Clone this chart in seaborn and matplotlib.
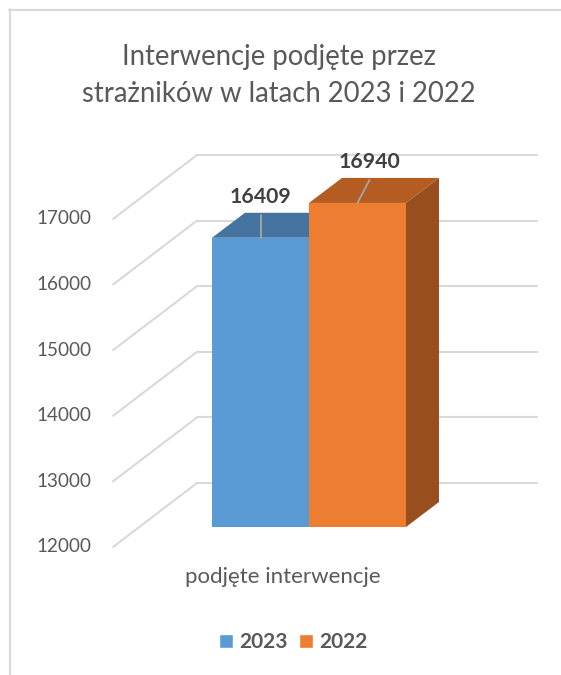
import matplotlib
matplotlib.use("Agg")
import matplotlib.pyplot as plt
import seaborn as sns
import pandas as pd
import numpy as np
from matplotlib.patches import Polygon
from matplotlib.lines import Line2D

# ---------------- data ----------------
title_lines = ["Interwencje podjęte przez", "strażników w latach 2023 i 2022"]
categories = ["podjęte interwencje"]
years = ["2023", "2022"]
values = [16409, 16940]
yticks = [12000, 13000, 14000, 15000, 16000, 17000]

front_colors = ["#5b9bd5", "#ed7d31"]
top_colors = ["#44749f", "#b55c22"]
side_colors = ["#3f6b93", "#994e1d"]
TXT = "#595959"
GRID = "#d9d9d9"

sns.set_theme(style="white")
plt.rcParams["font.family"] = ["Lato", "DejaVu Sans"]

W, H = 561, 675
fig = plt.figure(figsize=(W / 100, H / 100), dpi=100)
ax = fig.add_axes([0, 0, 1, 1])

df = pd.DataFrame({"cat": [categories[0]] * len(years), "year": years, "value": values})
sns.barplot(data=df, x="cat", y="value", hue="year", hue_order=years,
            palette=front_colors, saturation=1, width=0.8, ax=ax, legend=True)
bars = [p for p in ax.patches if np.isfinite(p.get_height()) and p.get_height() > 0
        and p.get_width() > 0]
bars.sort(key=lambda p: p.get_x())

# pixel <-> data mapping of the bar front plane
PXX = 242.5     # px per category unit
PXV = 0.0656    # px per value unit
X0, Y0 = 309, 527
BASE = yticks[0]
ax.set_xlim(-X0 / PXX, (W - X0) / PXX)
ax.set_ylim(BASE - (H - Y0) / PXV, BASE + Y0 / PXV)
ax.set_axis_off()

def dx(px):
    return px / PXX

def dv(px):
    return px / PXV

# back wall grid + left floor diagonals
for v in yticks:
    yb = v + dv(44)
    ax.add_line(Line2D([dx(197 - X0), dx(537 - X0)], [yb, yb], color=GRID, lw=1.5, zorder=1))
    ax.add_line(Line2D([dx(113 - X0), dx(197 - X0)], [v - dv(20), yb], color=GRID, lw=1.5, zorder=1))
    ax.text(dx(91 - X0), v - dv(20), str(v), ha="right", va="center",
            fontsize=13.6, color=TXT)

# bars with 3D faces
DX, DY = dx(33), dv(25)
label_off = [0, 12]
for i, p in enumerate(bars):
    h = p.get_height()
    p.set_y(BASE)
    p.set_height(h - BASE)
    p.set_edgecolor("none")
    z = 3 + 3 * i
    p.set_zorder(z + 2)
    x, w, top = p.get_x(), p.get_width(), h
    ax.add_patch(Polygon([(x, top), (x + w, top), (x + w + DX, top + DY), (x + DX, top + DY)],
                         closed=True, facecolor=top_colors[i], edgecolor="none", zorder=z))
    ax.add_patch(Polygon([(x + w, BASE), (x + w + DX, BASE + DY), (x + w + DX, top + DY), (x + w, top)],
                         closed=True, facecolor=side_colors[i], edgecolor="none", zorder=z + 1))
    cx = x + w / 2
    lx = cx + dx(label_off[i])
    ax.add_line(Line2D([cx, lx], [top, top + DY - dv(2)], color="#a6a6a6", lw=1.3, zorder=z + 2.5))
    ax.text(lx, top + DY + dv(16), f"{values[i]}", ha="center", va="center",
            fontsize=15.3, fontweight="bold", color="#404040", zorder=10)

# category label
ax.text(dx(-26), BASE - dv(20) - dv(30), categories[0], ha="center", va="center",
        fontsize=16, color=TXT)

# title
fig.text(279 / W, 1 - 65 / H, title_lines[0], ha="center", va="baseline", fontsize=19.8, color=TXT)
fig.text(279 / W, 1 - 102 / H, title_lines[1], ha="center", va="baseline", fontsize=19.8, color=TXT)

# legend
sns.move_legend(ax, "center", bbox_to_anchor=(293 / W, 1 - 642 / H), ncol=2, frameon=False,
                title=None, prop={"weight": "bold", "size": 15}, labelcolor=TXT,
                handlelength=0.67, handleheight=0.67, handletextpad=0.3, columnspacing=0.55)

# chart border (left & top)
fig.add_artist(Line2D([10 / W, 10 / W], [0, 1 - 9 / H], color=GRID, lw=1.5))
fig.add_artist(Line2D([9 / W, 1], [1 - 9.5 / H, 1 - 9.5 / H], color=GRID, lw=1.5))

fig.savefig("out.png", dpi=100)
